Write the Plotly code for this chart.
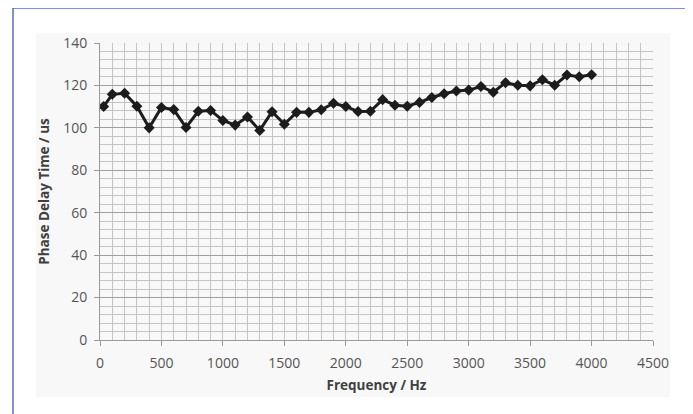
import plotly.graph_objects as go

freq_hz = [30, 100, 200, 300, 400, 500, 600, 700, 800, 900, 1000, 1100, 1200, 1300, 1400,
           1500, 1600, 1700, 1800, 1900, 2000, 2100, 2200, 2300, 2400, 2500, 2600, 2700,
           2800, 2900, 3000, 3100, 3200, 3300, 3400, 3500, 3600, 3700, 3800, 3900, 4000]
delay_us = [110.1, 115.8, 116.3, 110.2, 100.0, 109.6, 108.6, 100.2, 107.8, 108.2, 103.5,
            101.3, 105.1, 98.8, 107.6, 101.7, 107.3, 107.3, 108.5, 111.6, 110.1, 107.7,
            107.8, 113.3, 110.7, 110.2, 112.0, 114.3, 116.1, 117.4, 117.8, 119.5, 116.8,
            121.3, 120.1, 119.8, 122.7, 120.1, 124.9, 124.1, 125.0]

x_ticks = [0, 500, 1000, 1500, 2000, 2500, 3000, 3500, 4000, 4500]
y_ticks = [0, 20, 40, 60, 80, 100, 120, 140]

font_family = "Open Sans, Liberation Sans, sans-serif"

# page body has an 8px margin; plot area wanted at window x 100..653, y 43..340
OFF = 8
L, R, T, B = 100, 653, 43, 340
W, H = 693, 414

fig = go.Figure()
fig.add_trace(go.Scatter(
    x=freq_hz, y=delay_us, mode="lines+markers",
    line=dict(color="#1c1c1c", width=3),
    marker=dict(symbol="diamond", size=8.5, color="#1c1c1c"),
    showlegend=False,
))

grid_minor = "#c4c4c4"
fig.update_layout(
    width=W, height=H,
    margin=dict(l=L - OFF, r=W - (R - OFF), t=T - OFF, b=H - (B - OFF), pad=0),
    paper_bgcolor="white",
    plot_bgcolor="white",
    font=dict(family=font_family, color="#505050", size=14),
    xaxis=dict(
        range=[0, 4500], tickvals=x_ticks, ticktext=[str(v) for v in x_ticks],
        showgrid=True, gridcolor=grid_minor, gridwidth=1,
        minor=dict(dtick=100, showgrid=True, gridcolor=grid_minor, gridwidth=1, tick0=0),
        showline=True, linecolor="#999999", linewidth=1,
        ticks="outside", ticklen=5, tickcolor="#999999",
        ticklabelstandoff=5,
        tickfont=dict(size=14, color="#555555"),
        zeroline=False,
        title=dict(text="<b>Frequency / Hz</b>", font=dict(size=13.5, color="#404040"), standoff=9),
    ),
    yaxis=dict(
        range=[0, 140], tickvals=y_ticks, ticktext=[str(v) for v in y_ticks],
        showgrid=True, gridcolor="#a0a0a0", gridwidth=1.2,
        minor=dict(dtick=4, showgrid=True, gridcolor=grid_minor, gridwidth=1, tick0=0),
        showline=True, linecolor="#999999", linewidth=1,
        ticks="outside", ticklen=5, tickcolor="#999999",
        ticklabelstandoff=4,
        tickfont=dict(size=14, color="#555555"),
        zeroline=False,
        title=dict(text="<b>Phase Delay Time / us</b>", font=dict(size=13.5, color="#404040"), standoff=10),
    ),
    shapes=[
        dict(type="rect", xref="paper", yref="paper", layer="below",
             x0=(36 - L) / (R - L), x1=(670 - L) / (R - L),
             y0=(B - 397) / (B - T), y1=(B - 33) / (B - T),
             line=dict(width=0), fillcolor="#f8f8f8"),
        dict(type="rect", xref="paper", yref="paper", layer="above",
             x0=(13 - L) / (R - L), x1=(687 - L) / (R - L),
             y0=(B - 430) / (B - T), y1=(B - 8) / (B - T),
             line=dict(color="#5b6db8", width=1.5), fillcolor="rgba(0,0,0,0)"),
    ],
)

fig.write_html("out.html")
